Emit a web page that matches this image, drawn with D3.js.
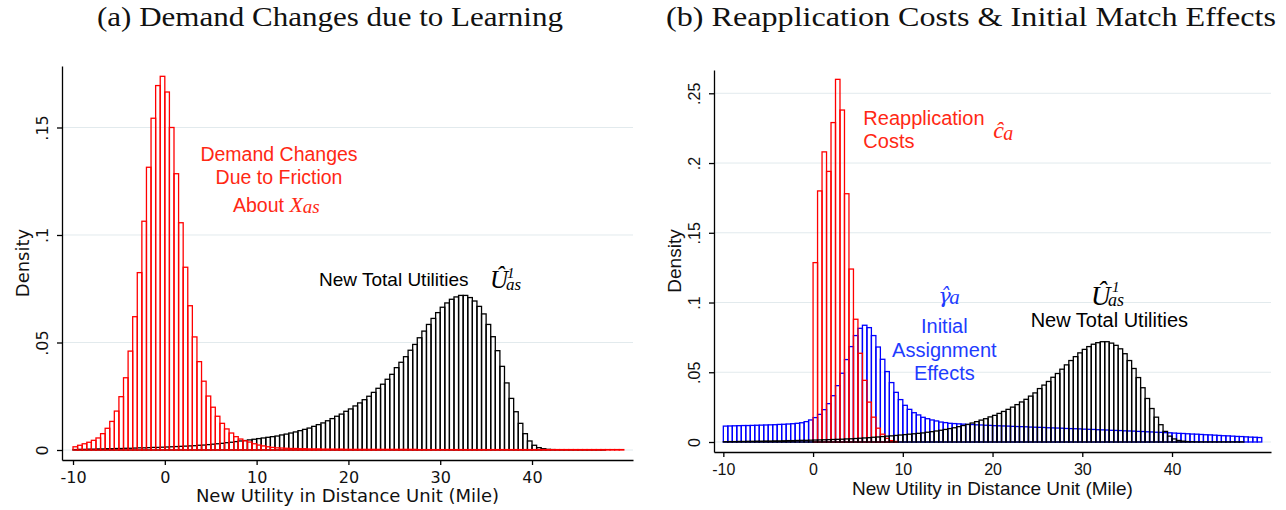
<!DOCTYPE html>
<html>
<head>
<meta charset="utf-8">
<script src="https://cdn.jsdelivr.net/npm/d3@7"></script>
<style>
  body { margin: 0; background: #fff; }
</style>
</head>
<body>
<svg id="chart" width="1286" height="510"></svg>
<script>
// histogram bins are 0.5 miles wide, each array starts at its own left edge
const binWidth = 0.5;

// (a) red: demand changes due to friction about X_as, bins from -10
const demandStart = -10;
const demandChange = [
  0.0015, 0.0022, 0.0029, 0.0036, 0.0045, 0.0056, 0.0076, 0.0101, 0.0133, 0.0181, // -10
  0.0248, 0.0336, 0.0460, 0.0620, 0.0825, 0.1064, 0.1315, 0.1543, 0.1695, 0.1738, // -5
  0.1665, 0.1500, 0.1285, 0.1057, 0.0850, 0.0671, 0.0526, 0.0411, 0.0320, 0.0251, // 0
  0.0199, 0.0157, 0.0124, 0.0098, 0.0079, 0.0062, 0.0051, 0.0043, 0.0037, 0.0029, // 5
  0.0023, 0.0019, 0.0015, 0.0012, 0.0010, 0.0009, 0.0008, 0.0007, 0.0007, 0.0006, // 10
  0.0006, 0.0005, 0.0005, 0.0005, 0.0004, 0.0004, 0.0004, 0.0004, 0.0004, 0.0003, // 15
  0.0003, 0.0003, 0.0003, 0.0003, 0.0003, 0.0003, 0.0003, 0.0003, 0.0003, 0.0003, // 20
  0.0003, 0.0003, 0.0003, 0.0003, 0.0003, 0.0002, 0.0002, 0.0002, 0.0002, 0.0002, // 25
  0.0002, 0.0002, 0.0002, 0.0002, 0.0002, 0.0002, 0.0002, 0.0002, 0.0002, 0.0002, // 30
  0.0002, 0.0002, 0.0002, 0.0002, 0.0002, 0.0002, 0.0002, 0.0002, 0.0002, 0.0002, // 35
  0.0002, 0.0002, 0.0002, 0.0002, 0.0002, 0.0002, 0.0002, 0.0002, 0.0002, 0.0002, // 40
  0.0002, 0.0002, 0.0002, 0.0002, 0.0002, 0.0002, 0.0002, 0.0002, 0.0002, 0.0002  // 45
];

// black: new total utilities U^1_as (same in both panels), bins from -10
const utilityStart = -10;
const newUtility = [
  0.0002, 0.0003, 0.0003, 0.0004, 0.0004, 0.0005, 0.0005, 0.0006, 0.0006, 0.0007, // -10
  0.0007, 0.0008, 0.0008, 0.0009, 0.0010, 0.0010, 0.0011, 0.0012, 0.0012, 0.0013, // -5
  0.0014, 0.0015, 0.0016, 0.0017, 0.0018, 0.0019, 0.0020, 0.0022, 0.0023, 0.0025, // 0
  0.0027, 0.0029, 0.0031, 0.0034, 0.0036, 0.0039, 0.0042, 0.0044, 0.0047, 0.0050, // 5
  0.0053, 0.0056, 0.0059, 0.0062, 0.0065, 0.0070, 0.0074, 0.0079, 0.0084, 0.0090, // 10
  0.0096, 0.0102, 0.0110, 0.0118, 0.0126, 0.0136, 0.0146, 0.0157, 0.0167, 0.0180, // 15
  0.0191, 0.0205, 0.0219, 0.0234, 0.0250, 0.0268, 0.0287, 0.0306, 0.0329, 0.0352, // 20
  0.0383, 0.0408, 0.0434, 0.0464, 0.0491, 0.0522, 0.0553, 0.0584, 0.0612, 0.0639, // 25
  0.0664, 0.0684, 0.0701, 0.0712, 0.0719, 0.0719, 0.0709, 0.0693, 0.0668, 0.0633, // 30
  0.0584, 0.0527, 0.0462, 0.0389, 0.0312, 0.0240, 0.0178, 0.0124, 0.0076, 0.0042, // 35
  0.0022, 0.0011, 0.0006, 0.0003, 0.0002, 0.0001, 0.0001, 0.0001, 0.0001, 0.0001, // 40
  0.0001, 0.0001, 0.0001, 0.0001, 0.0001, 0.0001, 0, 0, 0, 0                       // 45
];

// (b) red: reapplication costs c_a, bins from 0
const reapplyStart = 0;
const reapplyCost = [
  0.1286, 0.1800, 0.2080, 0.1940, 0.2290, 0.2600, 0.2380, 0.1780, 0.1240, 0.0880,
  0.0636, 0.0442, 0.0286, 0.0178, 0.0099, 0.0056, 0.0026, 0.0010, 0.0004
];

// (b) blue: initial assignment effects gamma_a, bins from -10
const assignStart = -10;
const assignEffect = [
  0.0114, 0.0115, 0.0116, 0.0117, 0.0118, 0.0118, 0.0119, 0.0120, 0.0121, 0.0122, // -10
  0.0123, 0.0124, 0.0126, 0.0127, 0.0129, 0.0131, 0.0134, 0.0138, 0.0146, 0.0158, // -5
  0.0175, 0.0198, 0.0232, 0.0275, 0.0332, 0.0404, 0.0493, 0.0591, 0.0684, 0.0763, // 0
  0.0815, 0.0837, 0.0820, 0.0763, 0.0681, 0.0593, 0.0505, 0.0426, 0.0356, 0.0304, // 5
  0.0263, 0.0234, 0.0210, 0.0194, 0.0177, 0.0167, 0.0158, 0.0151, 0.0143, 0.0139, // 10
  0.0134, 0.0132, 0.0130, 0.0128, 0.0126, 0.0125, 0.0123, 0.0122, 0.0120, 0.0119, // 15
  0.0117, 0.0116, 0.0115, 0.0114, 0.0112, 0.0111, 0.0110, 0.0109, 0.0107, 0.0106, // 20
  0.0105, 0.0104, 0.0102, 0.0101, 0.0100, 0.0099, 0.0097, 0.0096, 0.0095, 0.0094, // 25
  0.0092, 0.0091, 0.0090, 0.0088, 0.0087, 0.0086, 0.0084, 0.0083, 0.0082, 0.0080, // 30
  0.0079, 0.0078, 0.0076, 0.0075, 0.0073, 0.0072, 0.0070, 0.0069, 0.0067, 0.0066, // 35
  0.0064, 0.0062, 0.0061, 0.0059, 0.0057, 0.0056, 0.0054, 0.0052, 0.0051, 0.0049, // 40
  0.0047, 0.0045, 0.0044, 0.0042, 0.0040, 0.0039, 0.0037, 0.0035, 0.0034, 0.0032  // 45
];

const xTicks = [-10, 0, 10, 20, 30, 40];
const yTicksA = [0, 0.05, 0.1, 0.15];
const yTicksB = [0, 0.05, 0.1, 0.15, 0.2, 0.25];

const titleA = "(a) Demand Changes due to Learning";
const titleB = "(b) Reapplication Costs & Initial Match Effects";
const xTitle = "New Utility in Distance Unit (Mile)";
const yTitle = "Density";

const RED = "#ff0000", BLUE = "#0000ff", BLACK = "#000000";
const RED_TXT = "#ff2814", BLUE_TXT = "#1e3cff";
const SANS = "'Liberation Sans', Arial, sans-serif";
const MATH = "'Liberation Serif', 'Times New Roman', serif";

const svg = d3.select("#chart");

function bins(start, values) {
  return values
    .map((v, i) => ({ x0: start + i * binWidth, x1: start + (i + 1) * binWidth, v: v }))
    .filter(d => d.v > 0);
}

function drawBars(g, x, y, data, color) {
  g.append("g")
    .selectAll("rect")
    .data(data)
    .join("rect")
    .attr("x", d => x(d.x0))
    .attr("width", d => x(d.x1) - x(d.x0))
    .attr("y", d => y(d.v))
    .attr("height", d => y(0) - y(d.v))
    .attr("fill", "none")
    .attr("stroke", color)
    .attr("stroke-width", 1.3);
}

// stata style: ".05" without the leading zero
const densityFmt = d => d === 0 ? "0" : d3.format(".2~f")(d).replace(/^0/, "");

function panel(opt) {
  const x = d3.scaleLinear().domain(opt.xDomain).range(opt.xRange);
  const y = d3.scaleLinear().domain(opt.yDomain).range(opt.yRange);
  const g = svg.append("g");

  // light horizontal grid
  g.append("g")
    .selectAll("line")
    .data(opt.yTicks)
    .join("line")
    .attr("x1", opt.xRange[0])
    .attr("x2", opt.xRange[1])
    .attr("y1", d => y(d))
    .attr("y2", d => y(d))
    .attr("stroke", "#e2eaed")
    .attr("stroke-width", 1);

  opt.series.forEach(s => drawBars(g, x, y, bins(s.start, s.values), s.color));

  const xAxis = g.append("g")
    .attr("transform", `translate(0,${opt.yRange[0]})`)
    .call(d3.axisBottom(x).tickValues(xTicks).tickSize(5).tickSizeOuter(0).tickFormat(d => String(d)));
  xAxis.attr("font-family", opt.font).attr("font-size", opt.tickFont);
  xAxis.selectAll("text").attr("y", opt.xLabelGap).attr("dy", 0).attr("fill", "#111");

  const yAxis = g.append("g")
    .attr("transform", `translate(${opt.xRange[0]},0)`)
    .call(d3.axisLeft(y).tickValues(opt.yTicks).tickSize(5).tickSizeOuter(0).tickFormat(densityFmt));
  yAxis.attr("font-family", opt.font).attr("font-size", opt.tickFont);
  yAxis.selectAll("text")
    .attr("transform", "rotate(-90)")
    .attr("x", 0)
    .attr("y", -14)
    .attr("dy", 0)
    .attr("text-anchor", "middle")
    .attr("fill", "#111");

  g.selectAll(".domain, .tick line").attr("stroke-width", 1.3);

  // axis titles
  g.append("text")
    .attr("x", (opt.xRange[0] + opt.xRange[1]) / 2)
    .attr("y", opt.xTitleY)
    .attr("text-anchor", "middle")
    .attr("font-family", opt.font)
    .attr("font-size", opt.titleFont)
    .attr("fill", "#111")
    .text(xTitle);

  g.append("text")
    .attr("transform", `translate(${opt.yTitleX},${(opt.yRange[0] + opt.yRange[1]) / 2}) rotate(-90)`)
    .attr("text-anchor", "middle")
    .attr("font-family", opt.font)
    .attr("font-size", opt.titleFont)
    .attr("fill", "#111")
    .text(yTitle);

  // panel heading
  svg.append("text")
    .attr("x", opt.headX)
    .attr("y", 26)
    .attr("text-anchor", "middle")
    .attr("font-family", MATH)
    .attr("font-size", 27)
    .attr("textLength", opt.headLen)
    .attr("lengthAdjust", "spacingAndGlyphs")
    .attr("fill", "#111")
    .text(opt.heading);

  return { g, x, y };
}

function label(g, px, py, str, color, size, anchor) {
  return g.append("text")
    .attr("x", px).attr("y", py)
    .attr("text-anchor", anchor || "start")
    .attr("font-family", SANS)
    .attr("font-size", size)
    .attr("fill", color)
    .text(str);
}

// one <text> per math symbol; parts are [string, dx, dy, size, family] relative to (px, py)
function mathExpr(g, px, py, color, parts) {
  const t = g.append("text")
    .attr("fill", color)
    .attr("font-family", MATH)
    .attr("font-style", "italic");
  parts.forEach(([str, dx, dy, size, family]) => {
    const s = t.append("tspan")
      .attr("x", px + dx)
      .attr("y", py + dy)
      .attr("font-size", size)
      .text(str);
    if (family) s.attr("font-family", family);
  });
  return t;
}

// ---------- panel (a) ----------
const A = panel({
  xDomain: [-11.2, 51.0], xRange: [62, 633],
  yDomain: [-0.00465, 0.1786], yRange: [460, 66],
  yTicks: yTicksA,
  font: "'DejaVu Sans', sans-serif", tickFont: 16, titleFont: 18,
  xLabelGap: 23, xTitleY: 502, yTitleX: 29,
  heading: titleA, headX: 330, headLen: 466,
  series: [
    { start: utilityStart, values: newUtility, color: BLACK },
    { start: demandStart, values: demandChange, color: RED }
  ]
});

label(A.g, A.x(12.44), A.y(0.1344), "Demand Changes", RED_TXT, 19.5, "middle");
label(A.g, A.x(12.44), A.y(0.1235), "Due to Friction", RED_TXT, 19.5, "middle");
const about = label(A.g, A.x(7.43), A.y(0.1109), "About ", RED_TXT, 19.5);
about.append("tspan").attr("font-family", MATH).attr("font-style", "italic").attr("font-size", 22).text("X");
about.append("tspan").attr("font-family", MATH).attr("font-style", "italic").attr("font-size", 19).attr("dy", 1).text("as");

label(A.g, A.x(16.8), A.y(0.0763), "New Total Utilities", BLACK, 19);
// U-hat, superscript 1, subscript as
mathExpr(A.g, A.x(35.42), A.y(0.0752), BLACK, [
  ["\u00db", 0, 0, 25],
  ["1", 17, -10, 15],
  ["as", 16, 1.5, 17]
]);

// ---------- panel (b) ----------
const B = panel({
  xDomain: [-11.04, 51.03], xRange: [714, 1271],
  yDomain: [-0.00717, 0.2667], yRange: [452, 70],
  yTicks: yTicksB,
  font: SANS, tickFont: 16, titleFont: 19,
  xLabelGap: 23, xTitleY: 495, yTitleX: 681,
  heading: titleB, headX: 971, headLen: 610,
  series: [
    { start: assignStart, values: assignEffect, color: BLUE },
    { start: reapplyStart, values: reapplyCost, color: RED },
    { start: utilityStart, values: newUtility, color: BLACK }
  ]
});

label(B.g, B.x(5.6), B.y(0.2273), "Reapplication", RED_TXT, 20);
label(B.g, B.x(5.6), B.y(0.2108), "Costs", RED_TXT, 20);
mathExpr(B.g, B.x(20.09), B.y(0.218), RED_TXT, [
  ["\u0109", 0, 0, 24],
  ["a", 10, 2, 20]
]);

mathExpr(B.g, B.x(13.96), B.y(0.0997), BLUE_TXT, [
  ["\u03b3\u0302", 0, 0, 21, "'DejaVu Serif', serif"],
  ["a", 11, 1, 21]
]);
label(B.g, B.x(14.63), B.y(0.0782), "Initial", BLUE_TXT, 20, "middle");
label(B.g, B.x(14.63), B.y(0.0609), "Assignment", BLUE_TXT, 20, "middle");
label(B.g, B.x(14.63), B.y(0.0445), "Effects", BLUE_TXT, 20, "middle");

mathExpr(B.g, B.x(30.98), B.y(0.0982), BLACK, [
  ["\u00db", 0, 0, 27],
  ["1", 21, -13, 15],
  ["as", 17, 1, 18]
]);
label(B.g, B.x(33.02), B.y(0.0825), "New Total Utilities", BLACK, 20, "middle");
</script>
</body>
</html>
